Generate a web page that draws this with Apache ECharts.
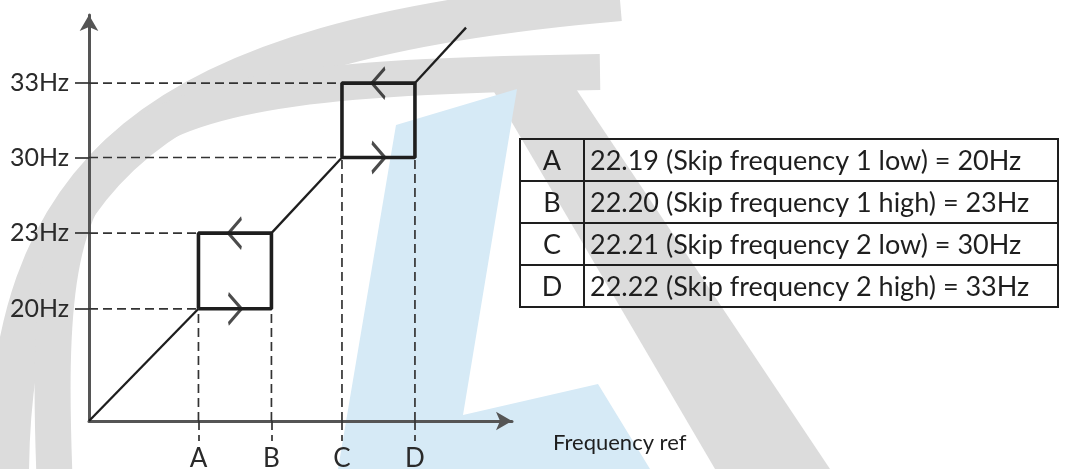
<!DOCTYPE html>
<html>
<head>
<meta charset="utf-8">
<script src="https://cdn.jsdelivr.net/npm/echarts@6.0.0/dist/echarts.min.js"></script>
<style>
  html, body { margin: 0; padding: 0; background: #fff; }
  #chart { width: 1070px; height: 469px; }
</style>
</head>
<body>
<div id="chart"></div>
<script>
// schematic positions (not to scale, as in the drawing)
const levelLabels = ['20Hz', '23Hz', '30Hz', '33Hz'];
const levelPos = [4.45, 7.45, 10.45, 13.4];
const refLabels = ['A', 'B', 'C', 'D'];
const refPos = [4.5, 7.5, 10.4, 13.4];
const tailEnd = [15.5, 15.6];

const tableKeys = ['A', 'B', 'C', 'D'];
const tableText = [
  '22.19 (Skip frequency 1 low) = 20Hz',
  '22.20 (Skip frequency 1 high) = 23Hz',
  '22.21 (Skip frequency 2 low) = 30Hz',
  '22.22 (Skip frequency 2 high) = 33Hz',
];

const FONT = 'Lato, "Open Sans", sans-serif';
const INK = '#1e1e1e';

const [xA, xB, xC, xD] = refPos;
const [y20, y23, y30, y33] = levelPos;

function seg(points, width, dashed) {
  return {
    type: 'line',
    data: points,
    showSymbol: false,
    silent: true,
    animation: false,
    lineStyle: {
      color: dashed ? '#333' : INK,
      width: width,
      type: dashed ? [9, 5] : 'solid',
    },
    z: dashed ? 3 : 4,
  };
}

function chevrons(points, rotate) {
  return {
    type: 'scatter',
    silent: true,
    animation: false,
    symbol: 'path://M0,0L14,15L0,30',
    symbolSize: [13, 30],
    symbolRotate: rotate,
    itemStyle: { color: 'none', borderColor: INK, borderWidth: 2.8 },
    data: points,
    z: 5,
  };
}

const series = [
  // dashed guides
  seg([[0, y20], [xA, y20]], 1.7, true),
  seg([[0, y23], [xA, y23]], 1.7, true),
  seg([[0, y30], [xC, y30]], 1.7, true),
  seg([[0, y33], [xC, y33]], 1.7, true),
  seg([[xA, 0], [xA, y20]], 1.7, true),
  seg([[xB, 0], [xB, y20]], 1.7, true),
  seg([[xC, 0], [xC, y30]], 1.7, true),
  seg([[xD, 0], [xD, y30]], 1.7, true),
  // ramp pieces
  seg([[0, 0], [xA, y20]], 2.3),
  seg([[xB, y23], [xC, y30]], 2.3),
  seg([[xD, y33], tailEnd], 2.3),
  // skip boxes
  seg([[xA, y20], [xB, y20], [xB, y23], [xA, y23], [xA, y20]], 3.6),
  seg([[xC, y30], [xD, y30], [xD, y33], [xC, y33], [xC, y30]], 3.6),
  chevrons([[(xA + xB) / 2, y20], [(xC + xD) / 2, y30]], 0),
  chevrons([[(xA + xB) / 2, y23], [(xC + xD) / 2, y33]], 180),
];

// table on the right
const tbl = { x: 520, y: 139, w: 538, rowH: 42, keyW: 64 };
const tableEls = [];
tableEls.push({
  type: 'rect',
  shape: { x: tbl.x, y: tbl.y, width: tbl.w, height: tbl.rowH * tableKeys.length },
  style: { fill: 'none', stroke: INK, lineWidth: 2 },
  z: 20,
});
tableEls.push({
  type: 'line',
  shape: { x1: tbl.x + tbl.keyW, y1: tbl.y, x2: tbl.x + tbl.keyW, y2: tbl.y + tbl.rowH * tableKeys.length },
  style: { stroke: INK, lineWidth: 2 },
  z: 20,
});
tableKeys.forEach((k, i) => {
  const cy = tbl.y + tbl.rowH * (i + 0.5) + 1;
  if (i > 0) {
    tableEls.push({
      type: 'line',
      shape: { x1: tbl.x, y1: tbl.y + tbl.rowH * i, x2: tbl.x + tbl.w, y2: tbl.y + tbl.rowH * i },
      style: { stroke: INK, lineWidth: 2 },
      z: 20,
    });
  }
  tableEls.push({
    type: 'text', x: tbl.x + tbl.keyW / 2, y: cy, z: 21,
    style: { text: k, font: '27px ' + FONT, fill: INK, align: 'center', verticalAlign: 'middle' },
  });
  tableEls.push({
    type: 'text', x: tbl.x + tbl.keyW + 6, y: cy, z: 21,
    style: { text: tableText[i], font: '27px ' + FONT, fill: INK, align: 'left', verticalAlign: 'middle' },
  });
});

const axisName = {
  type: 'text', x: 553, y: 443, z: 21,
  style: { text: 'Frequency ref', font: '22px ' + FONT, fill: INK, align: 'left', verticalAlign: 'middle' },
};

// faint logo watermark behind the drawing
const GREY = '#dcdcdc';
const BLUE = '#d6eaf6';
const watermark = [
  {
    type: 'bezierCurve', z: -10, silent: true,
    shape: { x1: 8, y1: 490, cpx1: 5, cpy1: 170, cpx2: 150, cpy2: 40, x2: 620, y2: 0 },
    style: { stroke: GREY, lineWidth: 42, fill: 'none' },
  },
  {
    type: 'bezierCurve', z: -10, silent: true,
    shape: { x1: 55, y1: 490, cpx1: 40, cpy1: 120, cpx2: 80, cpy2: 80, x2: 600, y2: 72 },
    style: { stroke: GREY, lineWidth: 36, fill: 'none' },
  },
  {
    type: 'polygon', z: -10, silent: true,
    shape: { points: [[490, 85], [560, 65], [830, 469], [715, 469]] },
    style: { fill: GREY },
  },
  {
    type: 'polygon', z: -9, silent: true,
    shape: { points: [[396, 125], [517, 89], [463, 415], [598, 384], [650, 469], [338, 469]] },
    style: { fill: BLUE },
  },
];

const chart = echarts.init(document.getElementById('chart'), null, { renderer: 'canvas' });
chart.setOption({
  backgroundColor: '#fff',
  animation: false,
  grid: { left: 89, right: 558, top: 15, bottom: 48, containLabel: false, outerBoundsMode: 'none' },
  xAxis: {
    type: 'value',
    min: 0,
    max: 17.39,
    splitLine: { show: false },
    axisLine: {
      show: true,
      symbol: ['none', 'arrow'],
      symbolSize: [14, 16],
      lineStyle: { color: '#555', width: 3 },
    },
    axisTick: {
      show: true,
      customValues: refPos,
      length: 20,
      lineStyle: { color: '#333', width: 1.7, type: [9, 5] },
    },
    axisLabel: {
      customValues: refPos,
      formatter: v => refLabels[refPos.indexOf(v)],
      margin: 25,
      fontFamily: FONT,
      fontSize: 26,
      color: '#2a2a2a',
    },
  },
  yAxis: {
    type: 'value',
    min: 0,
    max: 16.1,
    splitLine: { show: false },
    axisLine: {
      show: true,
      symbol: ['none', 'arrow'],
      symbolSize: [14, 16],
      lineStyle: { color: '#555', width: 3 },
    },
    axisTick: {
      show: true,
      customValues: levelPos,
      length: 14,
      lineStyle: { color: '#333', width: 1.7 },
    },
    axisLabel: {
      customValues: levelPos,
      formatter: v => levelLabels[levelPos.indexOf(v)],
      margin: 20,
      fontFamily: FONT,
      fontSize: 25,
      color: '#2a2a2a',
    },
  },
  graphic: { elements: watermark.concat(tableEls, [axisName]) },
  series: series,
});
</script>
</body>
</html>
